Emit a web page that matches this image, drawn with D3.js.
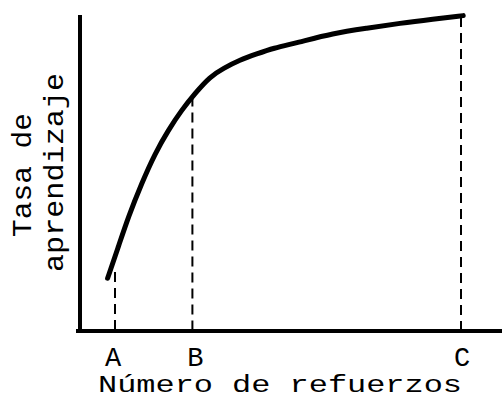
<!DOCTYPE html>
<html>
<head>
<meta charset="utf-8">
<script src="https://cdn.jsdelivr.net/npm/d3@7"></script>
<style>
  html, body { margin: 0; padding: 0; background: #fff; }
  svg { display: block; }
  text { font-family: "Liberation Mono", "DejaVu Sans Mono", monospace; fill: #000; }
</style>
</head>
<body>
<svg id="chart" width="502" height="407"></svg>
<script>
// Learning curve (arbitrary units 0-100)
const curveX = [6.9, 9.6, 12.1, 15.4, 18.75, 22.1, 25.4, 28.75, 32.5, 35.8, 40, 44.2, 48.3, 54.2, 63.3, 71.7, 80, 88.3, 95.8];
const curveY = [16.7, 26.7, 36.2, 46.7, 56.2, 63.6, 69.9, 75.2, 80.5, 83.1, 85.8, 87.7, 89.5, 91.2, 94.2, 95.8, 97.4, 98.7, 99.8];

// Reference markers
const markerLabels = ["A", "B", "C"];
const markerX = [8.75, 28.1, 95.25];
const markerTop = [18.7, 74.2, 99.4];

const xTitle = "Número de refuerzos";
const yTitleLines = ["Tasa de", "aprendizaje"];

const svg = d3.select("#chart");
const x = d3.scaleLinear().domain([0, 100]).range([80, 480]);
const y = d3.scaleLinear().domain([0, 100]).range([331, 15]);

// dashed drop lines
svg.selectAll("line.drop")
  .data(markerX)
  .join("line")
  .attr("class", "drop")
  .attr("x1", d => x(d)).attr("x2", d => x(d))
  .attr("y1", (d, i) => y(markerTop[i]))
  .attr("y2", y(0))
  .attr("stroke", "#000")
  .attr("stroke-width", 2)
  .attr("stroke-dasharray", "10,6");

// axes
svg.append("line")
  .attr("x1", x(0)).attr("x2", x(0))
  .attr("y1", y(100)).attr("y2", y(0) + 2)
  .attr("stroke", "#000").attr("stroke-width", 4);
svg.append("line")
  .attr("x1", x(-1)).attr("x2", x(106))
  .attr("y1", y(0)).attr("y2", y(0))
  .attr("stroke", "#000").attr("stroke-width", 4);

// curve
const pts = curveX.map((v, i) => [v, curveY[i]]);
svg.append("path")
  .datum(pts)
  .attr("fill", "none")
  .attr("stroke", "#000")
  .attr("stroke-width", 5)
  .attr("stroke-linecap", "round")
  .attr("d", d3.line().x(d => x(d[0])).y(d => y(d[1])).curve(d3.curveBasis));

// marker labels
svg.selectAll("text.mk")
  .data(markerLabels)
  .join("text")
  .attr("class", "mk")
  .attr("x", (d, i) => x(markerX[i]) + (i === 0 ? -2 : i === 1 ? 3 : 1))
  .attr("y", 366)
  .attr("text-anchor", "middle")
  .attr("font-size", 27)
  .text(d => d);

// x title
svg.append("text")
  .attr("x", 98).attr("y", 392)
  .attr("font-size", 24)
  .attr("textLength", 364)
  .attr("lengthAdjust", "spacingAndGlyphs")
  .text(xTitle);

// y title (two rotated lines)
const yPos = [{bx: 31, y0: 237, len: 124}, {bx: 63, y0: 272, len: 199}];
yTitleLines.forEach((t, i) => {
  svg.append("text")
    .attr("transform", `translate(${yPos[i].bx},${yPos[i].y0}) rotate(-90)`)
    .attr("font-size", 27)
    .attr("textLength", yPos[i].len)
    .attr("lengthAdjust", "spacingAndGlyphs")
    .text(t);
});
</script>
</body>
</html>
